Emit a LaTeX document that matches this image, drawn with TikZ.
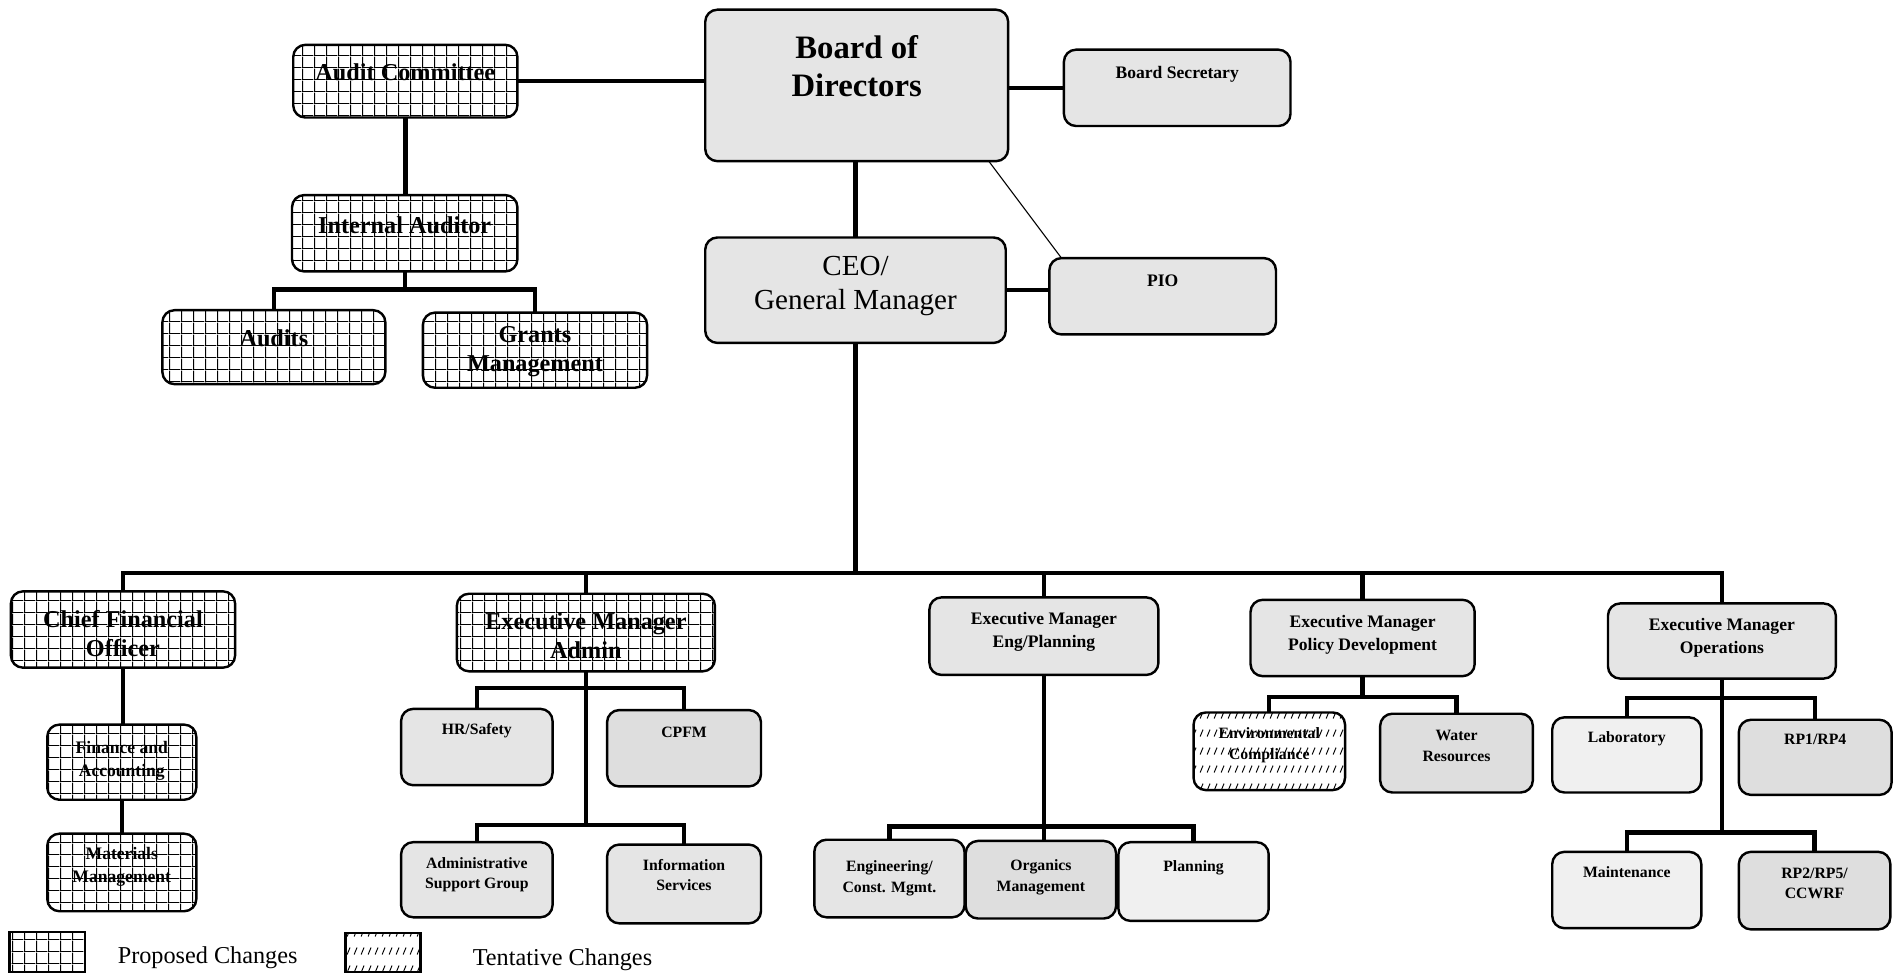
\documentclass[tikz,border=0pt]{standalone}
\usepackage{fontspec}
\setmainfont{Liberation Serif}
\usetikzlibrary{patterns}

% grid tile for the "proposed" units
\pgfdeclarepatternformonly{orggrid}{\pgfpointorigin}{\pgfpoint{10pt}{10pt}}{\pgfpoint{10pt}{10pt}}{%
  \pgfpathrectangle{\pgfpointorigin}{\pgfpoint{1pt}{10pt}}%
  \pgfpathrectangle{\pgfpointorigin}{\pgfpoint{10pt}{0.8pt}}%
  \pgfusepath{fill}}
% rows of short slashes for the "tentative" units
\pgfdeclarepatternformonly{slashrows}{\pgfpointorigin}{\pgfpoint{5.5pt}{15pt}}{\pgfpoint{5.5pt}{15pt}}{%
  \pgfsetlinewidth{0.8pt}%
  \pgfpathmoveto{\pgfpoint{1pt}{3pt}}%
  \pgfpathlineto{\pgfpoint{3.5pt}{9pt}}%
  \pgfusepath{stroke}}

\tikzset{
  unit/.style={draw=black, line width=2pt, rounded corners=10pt, inner sep=0pt, outer sep=0pt},
  current/.style={unit, fill=black!10},
  currentlt/.style={unit, fill=black!6},
  currentdk/.style={unit, fill=black!13},
  proposed/.style={unit, preaction={fill=white}, pattern=orggrid},
  tentative/.style={unit, preaction={fill=white}, pattern=slashrows},
  link/.style={line width=3.6pt},
  thinlink/.style={line width=0.9pt},
  fBoard/.style={font=\bfseries\fontsize{27}{31}\selectfont},
  fCeo/.style={font=\fontsize{24}{28}\selectfont},
  fMid/.style={font=\bfseries\fontsize{20}{24}\selectfont},
  fExec/.style={font=\bfseries\fontsize{14.5}{19}\selectfont},
  fSmall/.style={font=\bfseries\fontsize{13}{17}\selectfont},
  fLegend/.style={font=\fontsize{20}{24}\selectfont},
}

% #1 name, #2 style, #3-#6 box corners, #7 label centre y, #8 label font, #9 label
\newcommand\orgunit[9]{%
  \node[#2, minimum width={(#5-#3)*1pt}, minimum height={(#6-#4)*1pt}] (#1) at ({(#3+#5)/2},{(#4+#6)/2}) {};
  \node[#8, align=center, inner sep=0pt] (#1-label) at ({(#3+#5)/2},#7) {#9};}

\begin{document}
\begin{tikzpicture}[x=1pt, y=-1pt]
\useasboundingbox (0,0) rectangle (1568,805);

% governance
\orgunit{board}{current}{582}{8}{832}{133}{54.5}{fBoard}{Board of\\Directors}
\orgunit{secretary}{current}{878}{41}{1065}{104}{61}{fExec}{Board Secretary}
\orgunit{audcom}{proposed}{242}{37}{427}{97}{60}{fMid}{Audit Committee}
\orgunit{intaud}{proposed}{241}{161}{427}{224}{186}{fMid}{Internal Auditor}
\orgunit{audits}{proposed}{134}{256}{318}{317}{279}{fMid}{Audits}
\orgunit{grants}{proposed}{349}{258}{534}{320}{290}{fMid}{Grants\\Management}
\orgunit{ceo}{current}{582}{196}{830}{283}{236}{fCeo}{CEO/\\General Manager}
\orgunit{pio}{current}{866}{213}{1053}{276}{232}{fExec}{PIO}

% executive level
\orgunit{cfo}{proposed}{9}{488}{194}{551}{523}{fMid}{Chief Financial\\Officer}
\orgunit{admin}{proposed}{377}{490}{590}{554}{525}{fMid}{Executive Manager\\Admin}
\orgunit{eng}{current}{767}{493}{956}{557}{521.5}{fExec}{Executive Manager\\Eng/Planning}
\orgunit{policy}{current}{1032}{495}{1217}{558}{523.5}{fExec}{Executive Manager\\Policy Development}
\orgunit{ops}{current}{1327}{498}{1515}{560}{526.5}{fExec}{Executive Manager\\Operations}

% departments
\orgunit{finance}{proposed}{39}{598}{162}{660}{627.5}{fExec}{Finance and\\Accounting}
\orgunit{materials}{proposed}{39}{688}{162}{752}{715}{fExec}{Materials\\Management}
\orgunit{hr}{current}{331}{585}{456}{648}{603}{fSmall}{HR/Safety}
\orgunit{cpfm}{currentdk}{501}{586}{628}{649}{604}{fSmall}{CPFM}
\orgunit{adsup}{current}{331}{695}{456}{757}{722}{fSmall}{Administrative\\Support Group}
\orgunit{infosvc}{current}{501}{697}{628}{762}{722}{fSmall}{Information\\Services}
\orgunit{engcm}{current}{672}{693}{796}{757}{725}{fSmall}{Engineering/\\Const. Mgmt.}
\orgunit{organics}{currentdk}{797}{694}{921}{758}{724}{fSmall}{Organics\\Management}
\orgunit{planning}{currentlt}{923}{695}{1047}{760}{716}{fSmall}{Planning}
\orgunit{envcomp}{tentative}{985}{588}{1110}{652}{615}{fSmall}{Environmental\\Compliance}
\orgunit{water}{currentdk}{1139}{589}{1265}{654}{615.5}{fSmall}{Water\\Resources}
\orgunit{lab}{currentlt}{1281}{592}{1404}{654}{610}{fSmall}{Laboratory}
\orgunit{rpa}{currentdk}{1435}{594}{1561}{656}{610}{fSmall}{RP1/RP4}
\orgunit{maint}{currentlt}{1281}{703}{1404}{766}{720}{fSmall}{Maintenance}
\orgunit{rpb}{currentdk}{1435}{703}{1560}{767}{729}{fSmall}{RP2/RP5/\\CCWRF}

% junctions
\coordinate (iafork) at (334,239);
\coordinate (bus) at (706,473);
\coordinate (adfork1) at (483.5,568);
\coordinate (adfork2) at (483.5,681);
\coordinate (engfork) at (861.5,682);
\coordinate (polfork) at (1124.5,575);
\coordinate (opsfork1) at (1421,576);
\coordinate (opsfork2) at (1421,687);

% reporting lines
\draw[link] (audcom.east) -- (audcom.east -| board.west);
\draw[link] (board.east |- secretary.west) -- (secretary.west);
\draw[link] (audcom.south) -- (audcom.south |- intaud.north);
\draw[link] (intaud.south) -- (intaud.south |- iafork);
\draw[link] (audits.north) |- (iafork) -| (grants.north);
\draw[link] (ceo.north |- board.south) -- (ceo.north);
\draw[link] (ceo.east) -- (ceo.east -| pio.west);
\draw[thinlink] ([xshift=-16pt]board.south east) -- ([xshift=10pt]pio.north west);

\draw[link] (ceo.south) -- (ceo.south |- bus);
\draw[link] (cfo.north) |- (bus) -| (ops.north);
\draw[link] (admin.north) -- (admin.north |- bus);
\draw[link] (eng.north) -- (eng.north |- bus);
\draw[link] (policy.north) -- (policy.north |- bus);

\draw[link] (cfo.south) -- (cfo.south |- finance.north);
\draw[link] (finance.south) -- (materials.north);

\draw[link] (admin.south) -- (admin.south |- adfork2);
\draw[link] (hr.north) |- (adfork1) -| (cpfm.north);
\draw[link] (adsup.north) |- (adfork2) -| (infosvc.north);

\draw[link] (eng.south) -- (eng.south |- engfork);
\draw[link] (engcm.north) |- (engfork) -| (planning.north);
\draw[link] (engfork) -- (engfork |- organics.north);

\draw[link] (policy.south) -- (policy.south |- polfork);
\draw[link] (envcomp.north) |- (polfork) -| (water.north);

\draw[link] (ops.south) -- (ops.south |- opsfork2);
\draw[link] (lab.north) |- (opsfork1) -| (rpa.north);
\draw[link] (maint.north) |- (opsfork2) -| (rpb.north);

% key
\node[proposed, sharp corners, minimum width=62pt, minimum height=33pt] (keyprop) at (39,785.5) {};
\node[fLegend, anchor=west, inner sep=0pt] (keyproptxt) at (97,790) {Proposed Changes};
\node[tentative, sharp corners, minimum width=62pt, minimum height=32pt] (keytent) at (316,786) {};
\node[fLegend, anchor=west, inner sep=0pt] (keytenttxt) at (390,792) {Tentative Changes};
\end{tikzpicture}
\end{document}
